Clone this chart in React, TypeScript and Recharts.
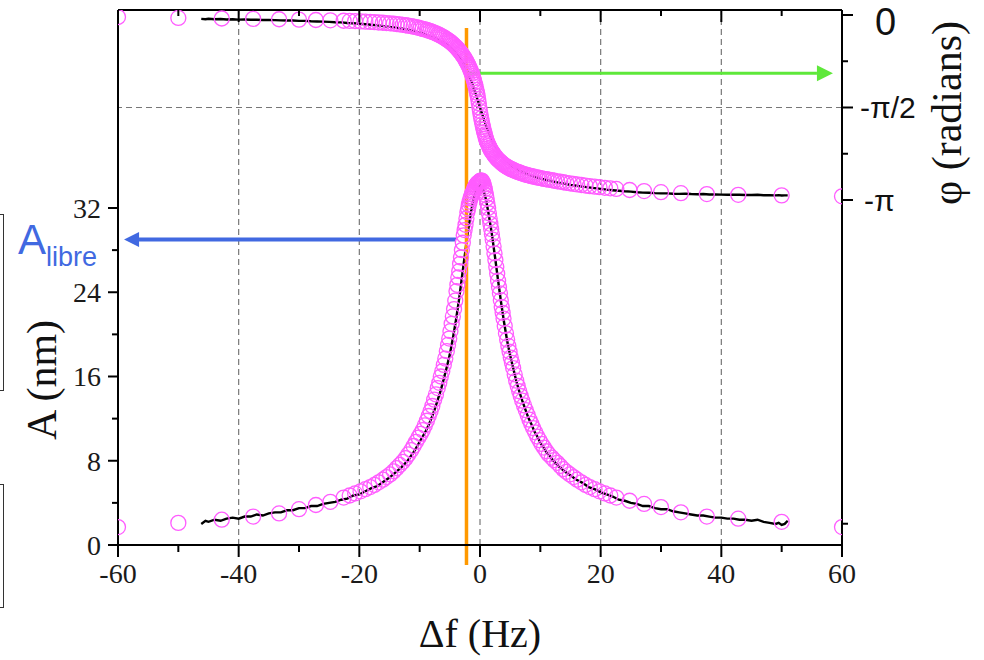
import React from 'react'
import { ComposedChart, Line, Scatter, XAxis, YAxis, ReferenceLine } from 'recharts'

// measured sweep (black line)
const freqHz = [
  -46.2, -45.5, -45, -44, -43, -42, -41, -40, -39, -38, -37, -36, -35, -34, -33, -32, -31, -30,
  -29, -28, -27, -26, -25, -24, -23, -22, -21, -20, -19, -18, -17, -16, -15, -14, -13, -12,
  -11.5, -11, -10.5, -10, -9.5, -9, -8.5, -8, -7.5, -7, -6.5, -6, -5.5, -5, -4.5, -4, -3.5, -3,
  -2.5, -2, -1.5, -1, -0.5, 0,
  0.5, 1, 1.5, 2, 2.5, 3, 3.5, 4, 4.5, 5, 5.5, 6, 6.5, 7, 7.5, 8, 8.5, 9, 9.5, 10, 10.5, 11, 11.5, 12,
  13, 14, 15, 16, 17, 18, 19, 20, 21, 22, 23, 24, 25, 26, 27, 28, 29, 30, 31, 32, 33, 34, 35, 36,
  37, 38, 39, 40, 41, 42, 43, 44, 45, 46, 47, 48, 49, 49.5, 50, 50.5, 51,
]
const ampNm = [
  2.0, 2.3, 2.2, 2.4, 2.3, 2.5, 2.6, 2.5, 2.7, 2.7, 2.9, 2.8, 3.0, 3.1, 3.1, 3.3, 3.3, 3.5,
  3.5, 3.7, 3.7, 3.9, 4.0, 4.1, 4.3, 4.4, 4.7, 4.8, 5.1, 5.4, 5.6, 6.0, 6.4, 6.9, 7.4, 8.0,
  8.4, 8.8, 9.3, 9.8, 10.3, 10.8, 11.4, 12.1, 12.9, 13.8, 14.7, 15.8, 16.9, 18.1, 19.6, 21.3, 23.2, 25.4,
  27.6, 29.8, 31.6, 33.0, 33.9, 34.2,
  33.8, 32.8, 31.2, 29.4, 27.3, 25.1, 23.0, 21.1, 19.4, 18.0, 16.8, 15.6, 14.6, 13.7, 12.9, 12.1, 11.5, 10.8,
  10.3, 9.7, 9.3, 8.8, 8.5, 8.1,
  7.5, 7.0, 6.6, 6.2, 5.9, 5.5, 5.3, 5.0, 4.8, 4.6, 4.3, 4.2, 4.0, 3.9, 3.7, 3.7, 3.5, 3.4, 3.4, 3.2,
  3.1, 3.0, 2.9, 2.8, 2.8, 2.7, 2.6, 2.6, 2.5, 2.5, 2.4, 2.4, 2.3, 2.4, 2.2, 2.1, 2.0, 2.1, 1.9, 2.0, 2.3,
]
// phase in units of pi
const phasePi = [
  -0.021, -0.023, -0.020, -0.023, -0.022, -0.024, -0.023, -0.025, -0.024, -0.026, -0.026, -0.027,
  -0.027, -0.028, -0.029, -0.030, -0.030, -0.032, -0.032, -0.034, -0.035, -0.036, -0.037, -0.039,
  -0.040, -0.043, -0.045, -0.047, -0.050, -0.053, -0.056, -0.060, -0.064, -0.068, -0.073, -0.079,
  -0.083, -0.087, -0.091, -0.095, -0.100, -0.106, -0.112, -0.118, -0.125, -0.133, -0.141, -0.150,
  -0.161, -0.174, -0.188, -0.204, -0.224, -0.248, -0.276, -0.313, -0.355, -0.400, -0.450, -0.500,
  -0.550, -0.598, -0.640, -0.677, -0.708, -0.735, -0.758, -0.777, -0.794, -0.808, -0.820, -0.831,
  -0.840, -0.848, -0.856, -0.862, -0.868, -0.874, -0.879, -0.884, -0.888, -0.892, -0.896, -0.899,
  -0.906, -0.912, -0.918, -0.923, -0.928, -0.932, -0.936, -0.940, -0.944, -0.947, -0.950, -0.953,
  -0.955, -0.958, -0.960, -0.961, -0.963, -0.964, -0.964, -0.966, -0.967, -0.966, -0.968, -0.969,
  -0.968, -0.970, -0.970, -0.971, -0.972, -0.971, -0.972, -0.973, -0.973, -0.972, -0.974, -0.974,
  -0.975, -0.974, -0.976, -0.975, -0.975,
]

// model points (magenta circles)
const simFreqHz = [
  -60, -50, -42.8, -37.6, -33.3, -30, -27.2, -24.8, -22.6, -21.6,
  -20.7, -19.8, -19, -18.2, -17.5, -16.8, -16.1, -15.5, -14.9, -14.3,
  -13.8, -13.3, -12.8, -12.3, -11.9, -11.4, -11, -10.6, -10.2, -9.85,
  -9.5, -9.15, -8.8, -8.5, -8.2, -7.9, -7.6, -7.3, -7, -6.75,
  -6.5, -6.25, -6, -5.75, -5.5, -5.3, -5.1, -4.9, -4.7, -4.5,
  -4.3, -4.1, -3.9, -3.75, -3.6, -3.45, -3.3, -3.15, -3, -2.85,
  -2.7, -2.55, -2.4, -2.25, -2.1, -1.97, -1.85, -1.72, -1.6, -1.47,
  -1.35, -1.22, -1.1, -1, -0.9, -0.8, -0.7, -0.6, -0.5, -0.4,
  -0.3, -0.2, -0.1, 0,
  0.1, 0.2, 0.3, 0.4, 0.5, 0.6, 0.7, 0.8, 0.9, 1,
  1.1, 1.22, 1.35, 1.47, 1.6, 1.72, 1.85, 1.97, 2.1, 2.25,
  2.4, 2.55, 2.7, 2.85, 3, 3.15, 3.3, 3.45, 3.6, 3.75,
  3.9, 4.1, 4.3, 4.5, 4.7, 4.9, 5.1, 5.3, 5.5, 5.75,
  6, 6.25, 6.5, 6.75, 7, 7.3, 7.6, 7.9, 8.2, 8.5,
  8.8, 9.15, 9.5, 9.85, 10.2, 10.6, 11, 11.4, 11.9, 12.3,
  12.8, 13.3, 13.8, 14.3, 14.9, 15.5, 16.1, 16.8, 17.5, 18.2,
  19, 19.8, 20.7, 21.6, 22.6, 24.8, 27.2, 30, 33.3, 37.6,
  42.8, 50, 60,
]
const simAmpNm = [
  1.7, 2.1, 2.4, 2.7, 3.0, 3.4, 3.8, 4.1, 4.5, 4.7,
  4.9, 5.1, 5.3, 5.5, 5.7, 5.95, 6.2, 6.45, 6.7, 7.0,
  7.3, 7.6, 7.9, 8.25, 8.6, 9.0, 9.4, 9.8, 10.2, 10.55,
  10.9, 11.35, 11.8, 12.25, 12.7, 13.2, 13.8, 14.3, 14.9, 15.4,
  16.0, 16.5, 17.1, 17.7, 18.4, 19.0, 19.6, 20.3, 21.0, 21.7,
  22.4, 23.2, 24.1, 24.7, 25.4, 26.0, 26.7, 27.3, 28.0, 28.7,
  29.4, 29.9, 30.4, 31.0, 31.6, 31.95, 32.3, 32.6, 32.9, 33.1,
  33.3, 33.45, 33.6, 33.75, 33.9, 34.0, 34.1, 34.2, 34.3, 34.35,
  34.4, 34.45, 34.5, 34.55,
  34.6, 34.6, 34.6, 34.5, 34.4, 34.2, 34.0, 33.8, 33.5, 33.2,
  32.9, 32.45, 32.0, 31.5, 31.0, 30.5, 30.0, 29.5, 29.0, 28.35,
  27.7, 27.05, 26.4, 25.75, 25.1, 24.5, 23.9, 23.25, 22.6, 22.05,
  21.5, 20.8, 20.1, 19.5, 18.9, 18.35, 17.8, 17.3, 16.8, 16.2,
  15.6, 15.1, 14.6, 14.15, 13.7, 13.25, 12.8, 12.35, 11.9, 11.5,
  11.1, 10.7, 10.3, 9.95, 9.6, 9.25, 8.9, 8.6, 8.3, 8.05,
  7.8, 7.5, 7.2, 6.95, 6.7, 6.45, 6.2, 5.95, 5.7, 5.5,
  5.3, 5.1, 4.9, 4.7, 4.5, 4.2, 3.9, 3.6, 3.1, 2.7,
  2.5, 2.2, 1.7,
]
const simPhasePi = [
  -0.011, -0.016, -0.019, -0.021, -0.023, -0.025, -0.027, -0.029, -0.031, -0.032,
  -0.033, -0.0345, -0.036, -0.0375, -0.039, -0.0405, -0.042, -0.0435, -0.045, -0.047,
  -0.049, -0.051, -0.053, -0.0555, -0.058, -0.0605, -0.063, -0.066, -0.069, -0.072,
  -0.075, -0.078, -0.081, -0.0845, -0.088, -0.0915, -0.095, -0.0995, -0.104, -0.108,
  -0.112, -0.1165, -0.121, -0.1265, -0.132, -0.1365, -0.141, -0.146, -0.151, -0.157,
  -0.163, -0.1695, -0.176, -0.1815, -0.187, -0.193, -0.199, -0.2055, -0.212, -0.219,
  -0.226, -0.234, -0.242, -0.251, -0.26, -0.2685, -0.277, -0.2865, -0.296, -0.307,
  -0.318, -0.33, -0.342, -0.353, -0.365, -0.377, -0.39, -0.405, -0.42, -0.437,
  -0.455, -0.477, -0.5, -0.52,
  -0.54, -0.558, -0.575, -0.59, -0.605, -0.619, -0.633, -0.645, -0.657, -0.668,
  -0.678, -0.689, -0.699, -0.708, -0.717, -0.725, -0.732, -0.739, -0.745, -0.752,
  -0.759, -0.765, -0.771, -0.777, -0.782, -0.787, -0.791, -0.796, -0.8, -0.804,
  -0.808, -0.813, -0.817, -0.821, -0.825, -0.829, -0.832, -0.835, -0.838, -0.842,
  -0.845, -0.848, -0.851, -0.854, -0.857, -0.86, -0.863, -0.866, -0.868, -0.871,
  -0.873, -0.876, -0.878, -0.881, -0.883, -0.886, -0.888, -0.89, -0.893, -0.896,
  -0.899, -0.901, -0.904, -0.907, -0.91, -0.913, -0.916, -0.919, -0.922, -0.925,
  -0.928, -0.931, -0.934, -0.937, -0.94, -0.946, -0.952, -0.958, -0.963, -0.968,
  -0.972, -0.975, -0.98,
]

const xTicks = [-60, -50, -40, -30, -20, -10, 0, 10, 20, 30, 40, 50, 60]
const ampTicks = [0, 4, 8, 12, 16, 20, 24, 28, 32]
const phaseTicks = [0, -0.25, -0.5, -0.75, -1, -2.75]
const phaseLabels: Record<string, string> = { '0': '0', '-0.5': '-π/2', '-1': '-π' }
const gridX = [-40, -20, 0, 20, 40]

const SERIF = '"Liberation Serif", "Times New Roman", serif'
const SANS = '"Liberation Sans", Arial, sans-serif'
const MAGENTA = '#ff5cff'

const measured = freqHz.map((f, i) => ({ f, a: ampNm[i], p: phasePi[i] }))
const simulated = simFreqHz.map((f, i) => ({ f, a: simAmpNm[i], p: simPhasePi[i] }))

const BottomTick = ({ x, y, payload }: any) => {
  const major = payload.value % 20 === 0
  return (
    <g>
      <line x1={x} y1={y} x2={x} y2={y + (major ? 12 : 7)} stroke="#000" strokeWidth={2} />
      {major && (
        <text x={x} y={y + 38} textAnchor="middle" fontFamily={SERIF} fontSize={28} fill="#1a1a1a">
          {payload.value}
        </text>
      )}
    </g>
  )
}

const TopTick = ({ x, y, payload }: any) => {
  const major = payload.value % 20 === 0
  return <line x1={x} y1={y} x2={x} y2={y + (major ? 12 : 6)} stroke="#000" strokeWidth={2} />
}

const LeftTick = ({ x, y, payload }: any) => {
  const major = payload.value % 8 === 0
  return (
    <g>
      <line x1={x - (major ? 10 : 6)} y1={y} x2={x} y2={y} stroke="#000" strokeWidth={2} />
      {major && (
        <text x={x - 17} y={y + 10} textAnchor="end" fontFamily={SERIF} fontSize={28} fill="#1a1a1a">
          {payload.value}
        </text>
      )}
    </g>
  )
}

const RightTick = ({ x, y, payload }: any) => {
  const label = phaseLabels[String(payload.value)]
  const big = payload.value === 0
  return (
    <g>
      <line x1={x} y1={y} x2={x + (label ? 11 : 6)} y2={y} stroke="#000" strokeWidth={2} />
      {label && (
        <text
          x={x + (big ? 33 : payload.value === -1 ? 22 : 18)}
          y={y + (big ? 20 : 11)}
          fontFamily={SANS}
          fontSize={big ? 38 : 30}
          fill="#111"
        >
          {label}
        </text>
      )}
    </g>
  )
}

const XTitle = (props: any) => {
  const vb = props.viewBox
  return (
    <text x={vb.x + vb.width / 2} y={vb.y + 102} textAnchor="middle" fontFamily={SERIF} fontSize={40} fill="#111">
      Δf (Hz)
    </text>
  )
}

const AmpTitle = (props: any) => {
  const vb = props.viewBox
  const cx = vb.x + 56
  const cy = vb.y + 370
  return (
    <text x={cx} y={cy} transform={`rotate(-90, ${cx}, ${cy})`} textAnchor="middle" fontFamily={SERIF} fontSize={42} fill="#111">
      A (nm)
    </text>
  )
}

const PhaseTitle = (props: any) => {
  const vb = props.viewBox
  const cx = vb.x + 119
  const cy = vb.y + 103
  return (
    <text x={cx} y={cy} transform={`rotate(-90, ${cx}, ${cy})`} textAnchor="middle" fontFamily={SERIF} fontSize={42} fill="#111">
      φ (radians)
    </text>
  )
}

const ring = (props: any) => (
  <circle cx={props.cx} cy={props.cy} r={7.5} fill="none" stroke={MAGENTA} strokeWidth={1.3} />
)

const arrow = (color: string, width: number, head: number, half: number, withLabel = false) => (p: any) => {
  const { x1, y1, x2, y2 } = p
  const dx = x2 - x1
  const dy = y2 - y1
  const len = Math.hypot(dx, dy) || 1
  const ux = dx / len
  const uy = dy / len
  const bx = x2 - ux * head
  const by = y2 - uy * head
  return (
    <g>
      <line x1={x1} y1={y1} x2={bx} y2={by} stroke={color} strokeWidth={width} />
      <polygon
        points={`${x2},${y2} ${bx - uy * half},${by + ux * half} ${bx + uy * half},${by - ux * half}`}
        fill={color}
      />
      {withLabel && (
        <text x={x2 - 106} y={y2 + 14} fontFamily={SANS} fill={color}>
          <tspan fontSize={42}>A</tspan>
          <tspan fontSize={27} dy={12}>libre</tspan>
        </text>
      )}
    </g>
  )
}

export default function App() {
  return (
    <div style={{ position: 'absolute', left: 0, top: 0, width: 984, height: 660, background: '#fff', overflow: 'hidden' }}>
      {/* cropped slide boxes on the left edge */}
      <div style={{ position: 'absolute', left: -10, top: 214, width: 12, height: 175, border: '1px solid #333' }} />
      <div style={{ position: 'absolute', left: -10, top: 484, width: 12, height: 122, border: '1px solid #333' }} />
      <ComposedChart width={984} height={660} margin={{ top: 0, right: 0, bottom: 0, left: 0 }}>
        <XAxis
          xAxisId="bottom" dataKey="f" type="number" domain={[-60, 60]} ticks={xTicks} interval={0}
          allowDataOverflow tickSize={0} tickMargin={0} tickLine={false} height={115}
          axisLine={{ stroke: '#000', strokeWidth: 2 }} tick={BottomTick} label={{ content: XTitle }}
        />
        <XAxis
          xAxisId="top" orientation="top" dataKey="f" type="number" domain={[-60, 60]} ticks={xTicks} interval={0}
          allowDataOverflow tickSize={0} tickMargin={0} tickLine={false} height={10}
          axisLine={{ stroke: '#000', strokeWidth: 2 }} tick={TopTick}
        />
        <YAxis
          yAxisId="left" type="number" domain={[0, 50.8]} ticks={ampTicks} interval={0}
          allowDataOverflow tickSize={0} tickMargin={0} tickLine={false} width={118}
          axisLine={{ stroke: '#000', strokeWidth: 2 }} tick={LeftTick} label={{ content: AmpTitle }}
        />
        <YAxis
          yAxisId="right" orientation="right" type="number" domain={[-2.865, 0.027]} ticks={phaseTicks} interval={0}
          allowDataOverflow tickSize={0} tickMargin={0} tickLine={false} width={142}
          axisLine={{ stroke: '#000', strokeWidth: 2 }} tick={RightTick} label={{ content: PhaseTitle }}
        />

        {gridX.map((g) => (
          <ReferenceLine key={g} x={g} xAxisId="bottom" yAxisId="left" stroke="#777" strokeWidth={1.2} strokeDasharray="6 4" />
        ))}
        <ReferenceLine y={-0.5} xAxisId="top" yAxisId="right" stroke="#777" strokeWidth={1.2} strokeDasharray="6 4" />

        <Scatter data={simulated} dataKey="a" xAxisId="bottom" yAxisId="left" shape={ring} isAnimationActive={false} />
        <Scatter data={simulated} dataKey="p" xAxisId="top" yAxisId="right" shape={ring} isAnimationActive={false} />
        <Line data={measured} dataKey="a" xAxisId="bottom" yAxisId="left" type="linear" stroke="#000" strokeWidth={2.4}
          dot={false} activeDot={false} isAnimationActive={false} />
        <Line data={measured} dataKey="p" xAxisId="top" yAxisId="right" type="linear" stroke="#000" strokeWidth={2.4}
          dot={false} activeDot={false} isAnimationActive={false} />

        <ReferenceLine
          xAxisId="bottom" yAxisId="left" ifOverflow="visible"
          segment={[{ x: -2.24, y: 49.1 }, { x: -2.24, y: -1.9 }]}
          stroke="#ff9900" strokeWidth={3.5}
        />
        <ReferenceLine
          xAxisId="top" yAxisId="right" ifOverflow="visible"
          segment={[{ x: -2.0, y: -0.315 }, { x: 58.5, y: -0.315 }]}
          shape={arrow('#5ee83a', 3, 16, 8)}
        />
        <ReferenceLine
          xAxisId="bottom" yAxisId="left" ifOverflow="visible"
          segment={[{ x: -3.98, y: 29.0 }, { x: -59.0, y: 29.0 }]}
          shape={arrow('#4169e1', 4, 15, 7.5, true)}
        />
      </ComposedChart>
    </div>
  )
}
